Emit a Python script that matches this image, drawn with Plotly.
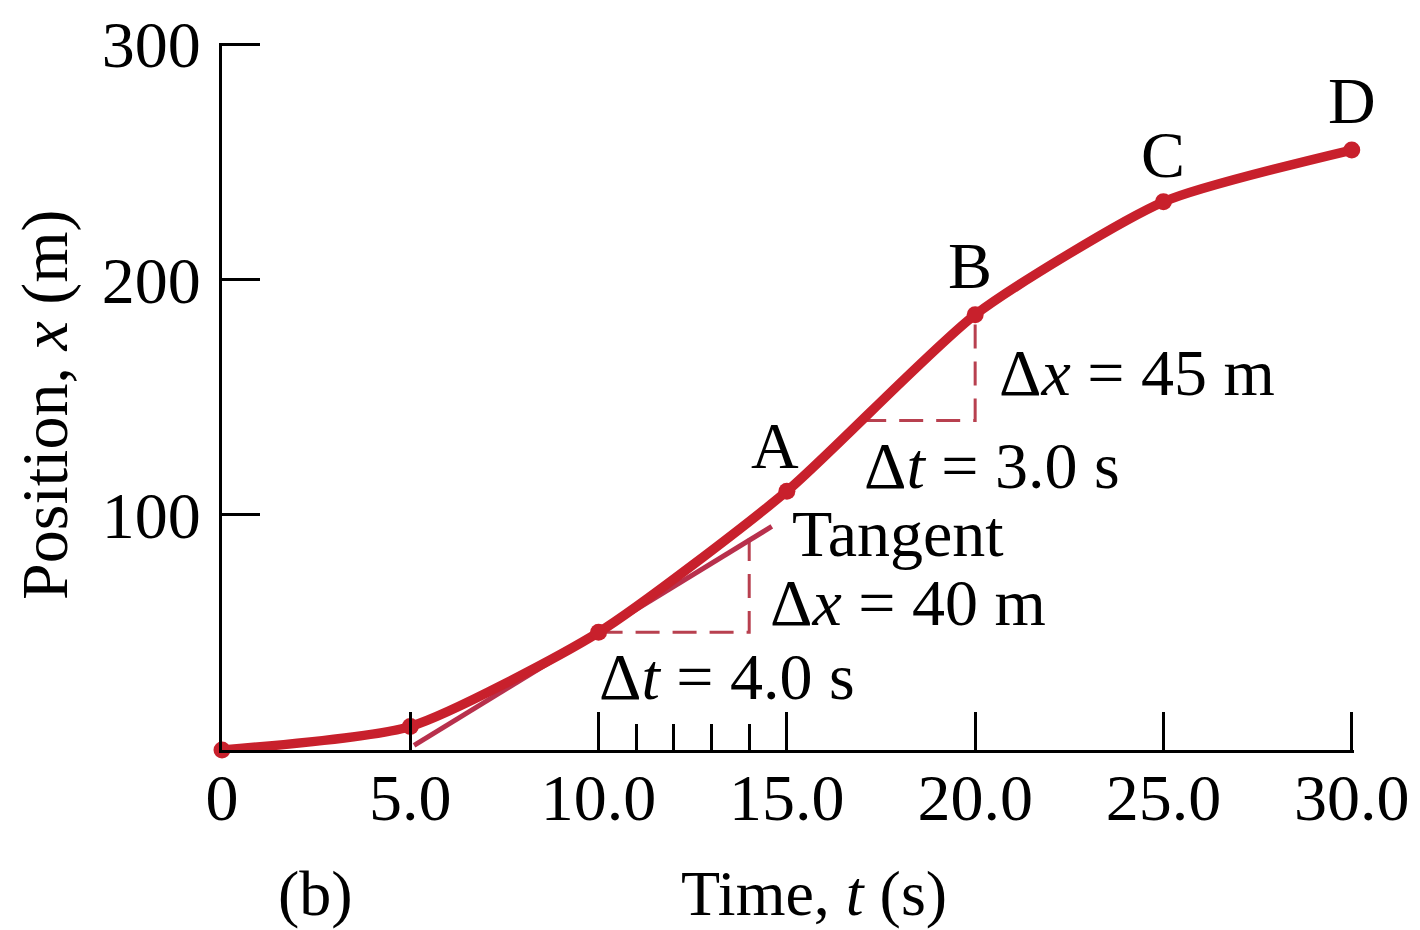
import plotly.graph_objects as go

# Data
time_s = [0, 5, 10, 15, 20, 25, 30]
position_m = [0, 10, 50, 110, 185, 233, 255]
point_labels = ["", "", "", "A", "B", "C", "D"]

tangent_t = [5.1, 14.6]
tangent_x = [2, 95]

dt1_t = [10, 14, 14]
dt1_x = [50, 50, 90]
dt2_t = [17, 20, 20]
dt2_x = [140, 140, 185]

x_tickvals = [0, 5, 10, 15, 20, 25, 30]
x_ticktext = ["0", "5.0", "10.0", "15.0", "20.0", "25.0", "30.0"]
x_minor = [11, 12, 13, 14]
y_tickvals = [100, 200, 300]
y_ticktext = ["100", "200", "300"]

FONT = "Liberation Serif"
RED = "#c8202c"
DASH = "#b8404f"
TXT = 66

fig = go.Figure()

fig.add_trace(go.Scatter(x=dt1_t, y=dt1_x, mode="lines",
                         line=dict(color=DASH, width=3, dash="24px,13px"),
                         hoverinfo="skip", showlegend=False))
fig.add_trace(go.Scatter(x=dt2_t, y=dt2_x, mode="lines",
                         line=dict(color=DASH, width=3, dash="24px,13px"),
                         hoverinfo="skip", showlegend=False))
fig.add_trace(go.Scatter(x=tangent_t, y=tangent_x, mode="lines",
                         line=dict(color="#b8304c", width=5),
                         hoverinfo="skip", showlegend=False))
fig.add_trace(go.Scatter(x=time_s, y=position_m, mode="lines+markers",
                         line=dict(color=RED, width=9.5, shape="spline", smoothing=0.6),
                         marker=dict(color=RED, size=17),
                         cliponaxis=False, showlegend=False))

# point letters
label_pos = {"A": (14.68, 129.6), "B": (19.86, 206), "C": (25.0, 253), "D": (30.0, 276)}
for t, lab in zip(time_s, point_labels):
    if lab:
        lx, ly = label_pos[lab]
        fig.add_annotation(x=lx, y=ly, text=lab, showarrow=False,
                           font=dict(family=FONT, size=TXT, color="black"),
                           xanchor="center", yanchor="middle")

texts = [
    (15.08, 92.2, "Tangent"),
    (14.49, 62.5, "Δ<i>x</i> = 40 m"),
    (9.95, 31.4, "Δ<i>t</i> = 4.0 s"),
    (16.99, 121.1, "Δ<i>t</i> = 3.0 s"),
    (20.57, 160.6, "Δ<i>x</i> = 45 m"),
]
for tx, ty, s in texts:
    fig.add_annotation(x=tx, y=ty, text=s, showarrow=False,
                       font=dict(family=FONT, size=TXT, color="black"),
                       xanchor="left", yanchor="middle")

# axis titles and panel label
fig.add_annotation(xref="paper", yref="paper", x=(814 - 222) / 1132, y=-(893 - 750) / 707,
                   text="Time, <i>t</i> (s)", showarrow=False,
                   font=dict(family=FONT, size=64, color="black"),
                   xanchor="center", yanchor="middle")
fig.add_annotation(xref="paper", yref="paper", x=(315 - 222) / 1132, y=-(893 - 750) / 707,
                   text="(b)", showarrow=False,
                   font=dict(family=FONT, size=64, color="black"),
                   xanchor="center", yanchor="middle")
fig.add_annotation(xref="paper", yref="paper", x=(45 - 222) / 1132, y=(750 - 405) / 707,
                   text="Position, <i>x</i> (m)", showarrow=False, textangle=-90,
                   font=dict(family=FONT, size=TXT, color="black"),
                   xanchor="center", yanchor="middle")

fig.update_layout(
    width=1412, height=922,
    margin=dict(l=214, r=66, t=35, b=180),
    paper_bgcolor="white", plot_bgcolor="white",
    showlegend=False,
    xaxis=dict(range=[0, 30.06], showline=True, linewidth=3, linecolor="black",
               showgrid=False, zeroline=False, automargin=False,
               ticks="inside", ticklen=38, tickwidth=2.5, tickcolor="black",
               tickvals=x_tickvals, ticktext=x_ticktext,
               tickfont=dict(family=FONT, size=TXT, color="black"),
               ticklabelstandoff=-12,
               minor=dict(tickvals=x_minor, ticks="inside", ticklen=26,
                          tickwidth=2.5, tickcolor="black", showgrid=False)),
    yaxis=dict(range=[0, 300.5], showline=True, linewidth=3, linecolor="black",
               showgrid=False, zeroline=False, automargin=False,
               ticks="inside", ticklen=38, tickwidth=2.5, tickcolor="black",
               tickvals=y_tickvals, ticktext=y_ticktext,
               tickfont=dict(family=FONT, size=TXT, color="black"),
               ticklabelstandoff=5),
)

fig.write_html("out.html")
